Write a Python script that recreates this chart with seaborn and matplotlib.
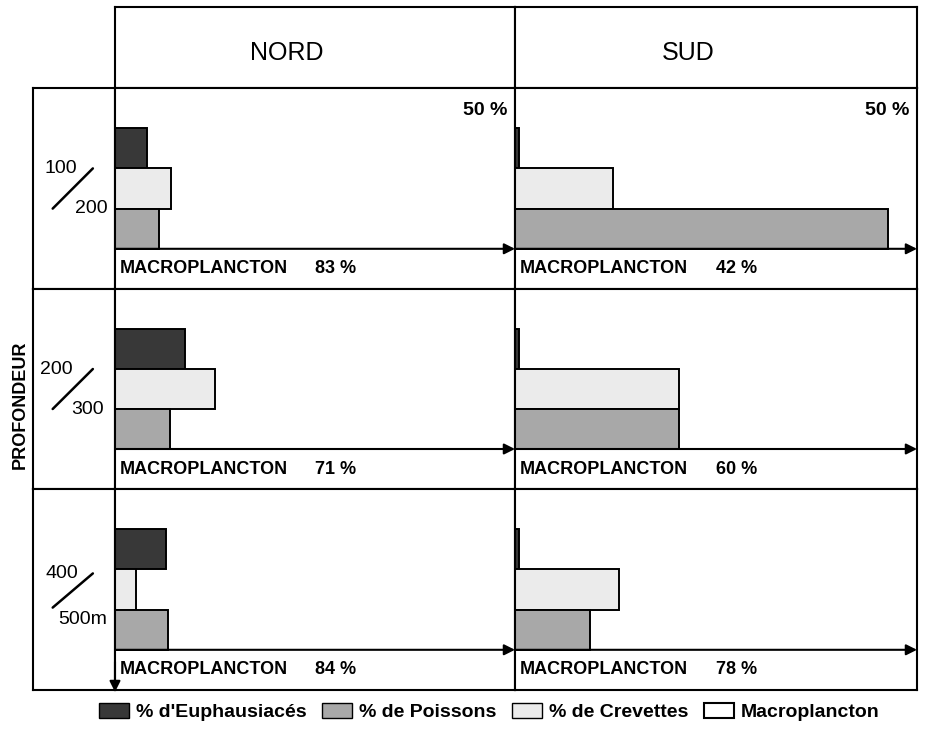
import matplotlib.pyplot as plt
import seaborn as sns
import pandas as pd
from matplotlib.patches import Patch

# Data (percent of stomach contents)
zones = ['NORD', 'SUD']
depth_top = ['100', '200', '400']
depth_bottom = ['200', '300', '500m']
groups = ["% d'Euphausiacés", '% de Crevettes', '% de Poissons']

nord_euph = [4.0, 8.7, 6.4]
nord_crev = [7.0, 12.5, 2.6]
nord_pois = [5.5, 6.9, 6.6]
sud_euph = [0.5, 0.5, 0.5]
sud_crev = [12.2, 20.4, 12.9]
sud_pois = [46.4, 20.4, 9.3]
macro_nord = [83, 71, 84]
macro_sud = [42, 60, 78]

group_colors = {groups[0]: '#383838', groups[1]: '#ebebeb', groups[2]: '#a8a8a8'}

# long table for seaborn
rows = []
for zone, series in [('NORD', [nord_euph, nord_crev, nord_pois]),
                     ('SUD', [sud_euph, sud_crev, sud_pois])]:
    for g, vals in zip(groups, series):
        for i, v in enumerate(vals):
            rows.append({'zone': zone, 'profondeur': i, 'groupe': g, 'valeur': v})
df = pd.DataFrame(rows)
macro = {'NORD': macro_nord, 'SUD': macro_sud}

sns.set_style('white')
plt.rcParams['font.family'] = ['Liberation Sans', 'DejaVu Sans']
plt.rcParams['text.color'] = 'black'

W, H = 949, 734
fig = plt.figure(figsize=(W / 100, H / 100), dpi=100)


def px_axes(x0, y0, x1, y1):
    ax = fig.add_axes([x0 / W, 1 - y1 / H, (x1 - x0) / W, (y1 - y0) / H])
    for s in ax.spines.values():
        s.set_visible(True)
        s.set_color('black')
        s.set_linewidth(1.5)
    ax.set_xticks([])
    ax.set_yticks([])
    return ax


col_x = {'NORD': (115, 515), 'SUD': (515, 917)}
row_y = [88, 289, 489, 690]

# header
for zone, xc in [('NORD', 0.43), ('SUD', 0.43)]:
    hx = px_axes(col_x[zone][0], 7, col_x[zone][1], 88)
    hx.text(xc, 0.43, zone, transform=hx.transAxes, ha='center', va='center', fontsize=18)

# depth labels (left column)
label_pos = [
    ((0.34, 0.60), (0.71, 0.40), (0.24, 0.40, 0.73, 0.60)),
    ((0.28, 0.595), (0.67, 0.395), (0.24, 0.40, 0.73, 0.60)),
    ((0.35, 0.58), (0.61, 0.35), (0.24, 0.41, 0.73, 0.58)),
]
for i in range(3):
    lx = px_axes(33, row_y[i], 115, row_y[i + 1])
    (tx, ty), (bx, by), (x0, y0, x1, y1) = label_pos[i]
    lx.text(tx, ty, depth_top[i], transform=lx.transAxes, ha='center', va='center',
            fontsize=14, fontweight='medium')
    lx.text(bx, by, depth_bottom[i], transform=lx.transAxes, ha='center', va='center',
            fontsize=14, fontweight='medium')
    lx.plot([x0, x1], [y0, y1], color='black', lw=1.8, transform=lx.transAxes)

fig.text(20 / W, 1 - 405 / H, 'PROFONDEUR', rotation=90, ha='center', va='center',
         fontsize=13, fontweight='bold')

# bar cells
for zone in zones:
    for i in range(3):
        ax = px_axes(col_x[zone][0], row_y[i], col_x[zone][1], row_y[i + 1])
        sub = df[(df['zone'] == zone) & (df['profondeur'] == i)]
        sns.barplot(data=sub, x='valeur', y='groupe', hue='groupe', order=groups,
                    hue_order=groups, palette=group_colors, width=1, saturation=1,
                    edgecolor='black', linewidth=1.4, errorbar=None, legend=False,
                    orient='h', ax=ax)
        ax.set_xlim(0, 50)
        ax.set_ylim(3.5, -1.5)
        ax.set_xlabel('')
        ax.set_ylabel('')
        ax.set_xticks([])
        ax.set_yticks([])
        ax.annotate('', xy=(50, 2.5), xytext=(0, 2.5), annotation_clip=False,
                    arrowprops=dict(arrowstyle='-|>', color='black', lw=1.5,
                                    mutation_scale=16, shrinkA=0, shrinkB=0))
        ax.text(0.6, 3.0, 'MACROPLANCTON', va='center', fontsize=13, fontweight='bold')
        ax.text(25, 3.0, f'{macro[zone][i]} %', va='center', fontsize=13, fontweight='bold')
        if i == 0:
            ax.text(49, -0.95, '50 %', ha='right', va='center', fontsize=14, fontweight='bold')
        if zone == 'NORD' and i == 2:
            ax.annotate('', xy=(0, 3.55), xytext=(0, 2.8), annotation_clip=False,
                        arrowprops=dict(arrowstyle='-|>', color='black', lw=1.5,
                                        mutation_scale=16, shrinkA=0, shrinkB=0))

# legend
handles = [
    Patch(facecolor=group_colors[groups[0]], edgecolor='black', label=groups[0]),
    Patch(facecolor=group_colors[groups[2]], edgecolor='black', label=groups[2]),
    Patch(facecolor=group_colors[groups[1]], edgecolor='black', label=groups[1]),
    Patch(facecolor='white', edgecolor='black', linewidth=1.5, label='Macroplancton'),
]
fig.legend(handles=handles, loc='center', bbox_to_anchor=(489 / W, 1 - 712 / H), ncol=4,
           frameon=False, prop={'size': 14, 'weight': 'bold'}, handlelength=1.55,
           handleheight=0.8, handletextpad=0.35, columnspacing=0.8)

fig.savefig('out.png', dpi=100)
